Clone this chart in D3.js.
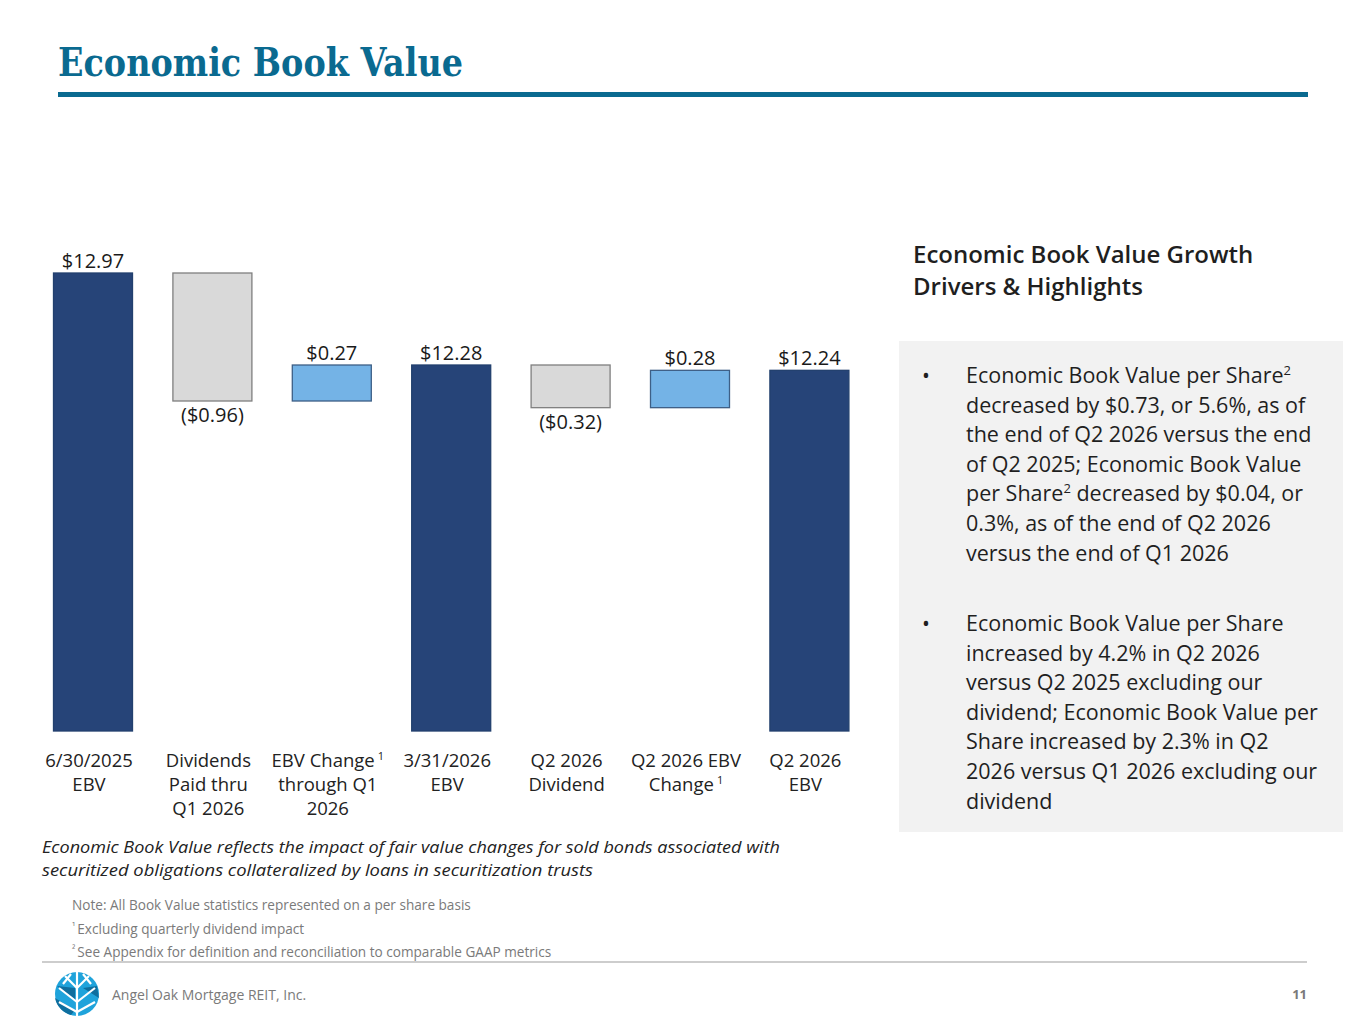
<!DOCTYPE html>
<html><head><meta charset="utf-8">
<script src="https://cdn.jsdelivr.net/npm/d3@7"></script>
<style>
body{margin:0;background:#fff;}
svg{display:block;}
</style></head>
<body><svg id="c" width="1365" height="1024"></svg>
<script>
const categories = [
  ["6/30/2025","EBV"],
  ["Dividends","Paid thru","Q1 2026"],
  ["EBV Change ¹","through Q1","2026"],
  ["3/31/2026","EBV"],
  ["Q2 2026","Dividend"],
  ["Q2 2026 EBV","Change ¹"],
  ["Q2 2026","EBV"]
];
const values = [12.97, -0.96, 0.27, 12.28, -0.32, 0.28, 12.24];
const kinds = ["total","decrease","increase","total","decrease","increase","total"];
const valueLabels = ["$12.97","($0.96)","$0.27","$12.28","($0.32)","$0.28","$12.24"];
const yDomain = [9.535, 12.97];

const bullet1 = [
  [["Economic Book Value per Share",""],["2","sup"]],
  [["decreased by $0.73, or 5.6%, as of",""]],
  [["the end of Q2 2026 versus the end",""]],
  [["of Q2 2025; Economic Book Value",""]],
  [["per Share",""],["2","sup"],[" decreased by $0.04, or",""]],
  [["0.3%, as of the end of Q2 2026",""]],
  [["versus the end of Q1 2026",""]]
];
const bullet2 = [
  [["Economic Book Value per Share",""]],
  [["increased by 4.2% in Q2 2026",""]],
  [["versus Q2 2025 excluding our",""]],
  [["dividend; Economic Book Value per",""]],
  [["Share increased by 2.3% in Q2",""]],
  [["2026 versus Q1 2026 excluding our",""]],
  [["dividend",""]]
];
const footNotes = ["Note: All Book Value statistics represented on a per share basis",
  "¹ Excluding quarterly dividend impact",
  "² See Appendix for definition and reconciliation to comparable GAAP metrics"];
const italicNote = ["Economic Book Value reflects the impact of fair value changes for sold bonds associated with",
  "securitized obligations collateralized by loans in securitization trusts"];

const svg = d3.select("#c");
const FONT = "'Open Sans', sans-serif";

// Title
svg.append("text").attr("x",58).attr("y",76)
  .attr("font-family","'DejaVu Serif Condensed','DejaVu Serif',serif").attr("font-weight","bold")
  .attr("font-size",40).attr("fill","#0a6a90")
  .attr("textLength",405).attr("lengthAdjust","spacingAndGlyphs")
  .text("Economic Book Value");
svg.append("rect").attr("x",58).attr("y",92).attr("width",1250).attr("height",5).attr("fill","#0a6a90");

// Waterfall computation
let running = 0;
const bars = values.map((v,i)=>{
  let lo, hi;
  if(kinds[i]==="total"){ running = v; lo = yDomain[0]; hi = v; }
  else { const start = running; running = start + v; lo = Math.min(start,running); hi = Math.max(start,running); }
  return {i, v, kind:kinds[i], lo, hi, label:valueLabels[i]};
});

const x = d3.scaleBand().domain(d3.range(categories.length)).range([33.3,869.1])
  .paddingInner(0.33).paddingOuter(0.165);
const y = d3.scaleLinear().domain(yDomain).range([731,273]);

const fills = {total:"#264478", decrease:"#d9d9d9", increase:"#74b3e6"};
const strokes = {total:"#22406e", decrease:"#7f7f7f", increase:"#3d5f86"};

const g = svg.append("g");
g.selectAll("rect.bar").data(bars).join("rect").attr("class","bar")
  .attr("x",d=>x(d.i)+0.5).attr("width",x.bandwidth()-1)
  .attr("y",d=>y(d.hi)).attr("height",d=>y(d.lo)-y(d.hi))
  .attr("fill",d=>fills[d.kind]).attr("stroke",d=>strokes[d.kind]).attr("stroke-width",1.3);

g.selectAll("text.val").data(bars).join("text").attr("class","val")
  .attr("x",d=>x(d.i)+x.bandwidth()/2)
  .attr("y",d=> d.kind==="decrease" ? y(d.lo)+21 : y(d.hi)-5)
  .attr("text-anchor","middle").attr("font-family",FONT).attr("font-size",20).attr("fill","#1a1a1a")
  .text(d=>d.label);

// X labels
const xl = g.selectAll("text.cat").data(categories).join("text").attr("class","cat")
  .attr("text-anchor","middle").attr("font-family",FONT).attr("font-size",18.5).attr("fill","#222");
xl.each(function(lines,i){
  const t = d3.select(this);
  lines.forEach((ln,j)=>{
    const ts = t.append("tspan").attr("x",x(i)+x.bandwidth()/2-4).attr("y",767+j*24);
    if(ln.includes("¹")){
      ts.text(ln.replace(" ¹",""));
      ts.append("tspan").attr("font-size",11).attr("dx",3).attr("dy",-7).text("1");
    } else ts.text(ln);
  });
});

// italic note
const noteLens = [738, 551];
italicNote.forEach((ln,j)=>{
  svg.append("text").attr("x",42).attr("y",853+j*23).attr("font-family",FONT)
    .attr("font-style","italic").attr("font-size",17).attr("fill","#222")
    .attr("textLength",noteLens[j]).attr("lengthAdjust","spacingAndGlyphs").text(ln);
});
footNotes.forEach((ln,j)=>{
  const t = svg.append("text").attr("x",72).attr("y",910+j*23.5).attr("font-family",FONT)
    .attr("font-size",13.6).attr("fill","#7a7a7a");
  if(j>0){
    t.append("tspan").attr("font-size",9.5).attr("dy",-4).text(ln[0]);
    t.append("tspan").attr("dy",4).attr("dx",2).text(ln.slice(2));
  } else t.text(ln);
});

// footer
svg.append("line").attr("x1",42).attr("x2",1307).attr("y1",962).attr("y2",962).attr("stroke","#bdbdbd").attr("stroke-width",1.5);
svg.append("text").attr("x",112).attr("y",1000).attr("font-family",FONT).attr("font-size",14).attr("fill","#7a7a7a").text("Angel Oak Mortgage REIT, Inc.");
svg.append("text").attr("x",1307).attr("y",999).attr("text-anchor","end").attr("font-family",FONT).attr("font-weight","bold").attr("font-size",13).attr("fill","#7a7a7a").text("11");

// logo
const lg = svg.append("g").attr("transform","translate(77,994)");
lg.append("circle").attr("r",22).attr("fill","#1fa3db");
lg.append("path").attr("d","M-22,4 A22,22 0 0 0 -6,21 L-2,16 Z M-20,-8 L-2,6 L-2,-6 Z M6,-6 L20,-8 L22,4 Z").attr("fill","#0f6e9e");
lg.append("g").attr("stroke","#fff").attr("stroke-width",2.2).attr("fill","none")
  .selectAll("path").data([
    "M0,22 L0,-22","M0,8 L-18,-6","M0,8 L18,-6","M0,-6 L-12,-18","M0,-6 L12,-18",
    "M0,18 L-18,8","M0,18 L18,8","M-6,-20 L-14,-10","M6,-20 L14,-10"
  ]).join("path").attr("d",d=>d);

// Right panel
const rh = ["Economic Book Value Growth","Drivers & Highlights"];
rh.forEach((ln,j)=>{
  svg.append("text").attr("x",913).attr("y",263+j*32).attr("font-family",FONT).attr("font-weight",600)
    .attr("font-size",24).attr("fill","#1f1f1f").text(ln);
});
svg.append("rect").attr("x",899).attr("y",341).attr("width",444).attr("height",491).attr("fill","#f2f2f2");

function drawBullet(lines, y0){
  svg.append("text").attr("x",922).attr("y",y0).attr("font-family",FONT).attr("font-size",21).attr("fill","#1f1f1f").text("•");
  lines.forEach((parts,j)=>{
    const t = svg.append("text").attr("x",966).attr("y",y0+j*29.6).attr("font-family",FONT)
      .attr("font-size",21.5).attr("fill","#1f1f1f");
    parts.forEach(([s,k])=>{
      if(k==="sup"){ t.append("tspan").attr("font-size",13).attr("dy",-8).text(s); }
      else { const ts=t.append("tspan").text(s); if(t.selectAll("tspan").size()>1) ts.attr("dy",8); }
    });
  });
}
drawBullet(bullet1, 383);
drawBullet(bullet2, 631);
</script></body></html>
